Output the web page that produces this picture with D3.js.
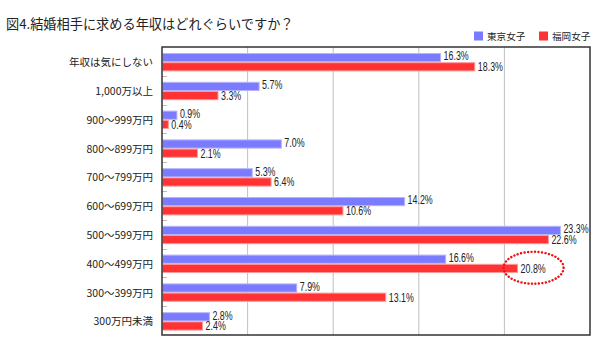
<!DOCTYPE html>
<html><head><meta charset="utf-8">
<script src="https://cdn.jsdelivr.net/npm/d3@7"></script>
<style>
body{margin:0;background:#fff;}
svg{display:block;}
</style></head>
<body>
<svg id="chart" width="600" height="350"></svg>
<script>
const title = "図4.結婚相手に求める年収はどれぐらいですか？";
const categories = ["年収は気にしない","1,000万以上","900～999万円","800～899万円","700～799万円","600～699万円","500～599万円","400～499万円","300～399万円","300万円未満"];
const seriesNames = ["東京女子","福岡女子"];
const tokyo = [16.3,5.7,0.9,7.0,5.3,14.2,23.3,16.6,7.9,2.8];
const fukuoka = [18.3,3.3,0.4,2.1,6.4,10.6,22.6,20.8,13.1,2.4];
const gridTicks = [5,10,15,20];
const highlightIndex = 7; // 400～499万円, 福岡女子

const fills = ["#7b7bff","#ff3333"];
const strokes = ["#b4b4ff","#ff9a9a"];

const svg = d3.select("#chart");
const m = {left:162, right:590, top:47, bottom:335};

const x = d3.scaleLinear().domain([0,25]).range([m.left, m.right]);
const y = d3.scaleBand().domain(categories).range([m.top, m.bottom]);
const barH = 9.2;
const offs = 6;

// title
svg.append("text").attr("x",6).attr("y",29)
  .attr("font-family","'Noto Sans CJK JP', sans-serif").attr("font-size",13.2)
  .attr("fill","#222").text(title);

// legend
const lg = svg.append("g");
const legX = [474,539];
seriesNames.forEach((s,i)=>{
  lg.append("rect").attr("x",legX[i]).attr("y",31.5).attr("width",9).attr("height",9).attr("fill",fills[i]);
  lg.append("text").attr("x",legX[i]+13).attr("y",40).attr("font-family","'Noto Sans CJK JP', sans-serif")
    .attr("font-size",9.6).attr("fill","#222").text(s);
});

// gridlines
svg.append("g").selectAll("line").data(gridTicks).join("line")
  .attr("x1",d=>x(d)).attr("x2",d=>x(d)).attr("y1",m.top).attr("y2",m.bottom)
  .attr("stroke","#c0c0c0").attr("stroke-width",1);

// small tick dashes at band boundaries
svg.append("g").selectAll("line").data(categories.slice(1)).join("line")
  .attr("x1",m.left).attr("x2",m.left+5).attr("y1",d=>Math.round(y(d))+0.5).attr("y2",d=>Math.round(y(d))+0.5)
  .attr("stroke","#bbbbbb");

// bars
const series = [tokyo, fukuoka];
const labelDy = [2.8, 4.4];
series.forEach((vals,si)=>{
  const g = svg.append("g");
  g.selectAll("rect").data(vals).join("rect")
    .attr("x",x(0)+0.5)
    .attr("y",(d,i)=>y(categories[i])+offs+si*barH+0.5)
    .attr("width",d=>x(d)-x(0)-1)
    .attr("height",barH-1)
    .attr("fill",fills[si]).attr("stroke",strokes[si]).attr("stroke-width",1);
  g.selectAll("text").data(vals).join("text")
    .attr("transform",(d,i)=>`translate(${x(d)+2.5},${y(categories[i])+offs+si*barH+barH/2+labelDy[si]}) scale(0.74,1)`)
    .attr("font-family","'Liberation Sans', Arial, sans-serif")
    .attr("font-size",12).attr("fill","#222")
    .text(d=>d.toFixed(1)+"%");
});

// frame
svg.append("rect").attr("x",m.left).attr("y",m.top).attr("width",m.right-m.left).attr("height",m.bottom-m.top)
  .attr("fill","none").attr("stroke","#333").attr("stroke-width",1.5);

// category labels
svg.append("g").selectAll("text").data(categories).join("text")
  .attr("x",153).attr("y",d=>y(d)+offs+barH+4)
  .attr("text-anchor","end")
  .attr("font-family","'Noto Sans CJK JP', sans-serif").attr("font-size",10.5).attr("fill","#222")
  .text(d=>d);

// highlight ellipse
const hv = fukuoka[highlightIndex];
svg.append("ellipse")
  .attr("cx",x(hv)+15.5).attr("cy",y(categories[highlightIndex])+offs+barH*1.5-0.6)
  .attr("rx",30).attr("ry",16)
  .attr("fill","none").attr("stroke","#ee1111").attr("stroke-width",2.4)
  .attr("stroke-dasharray","0.1 3.4").attr("stroke-linecap","round");
</script>
</body></html>
